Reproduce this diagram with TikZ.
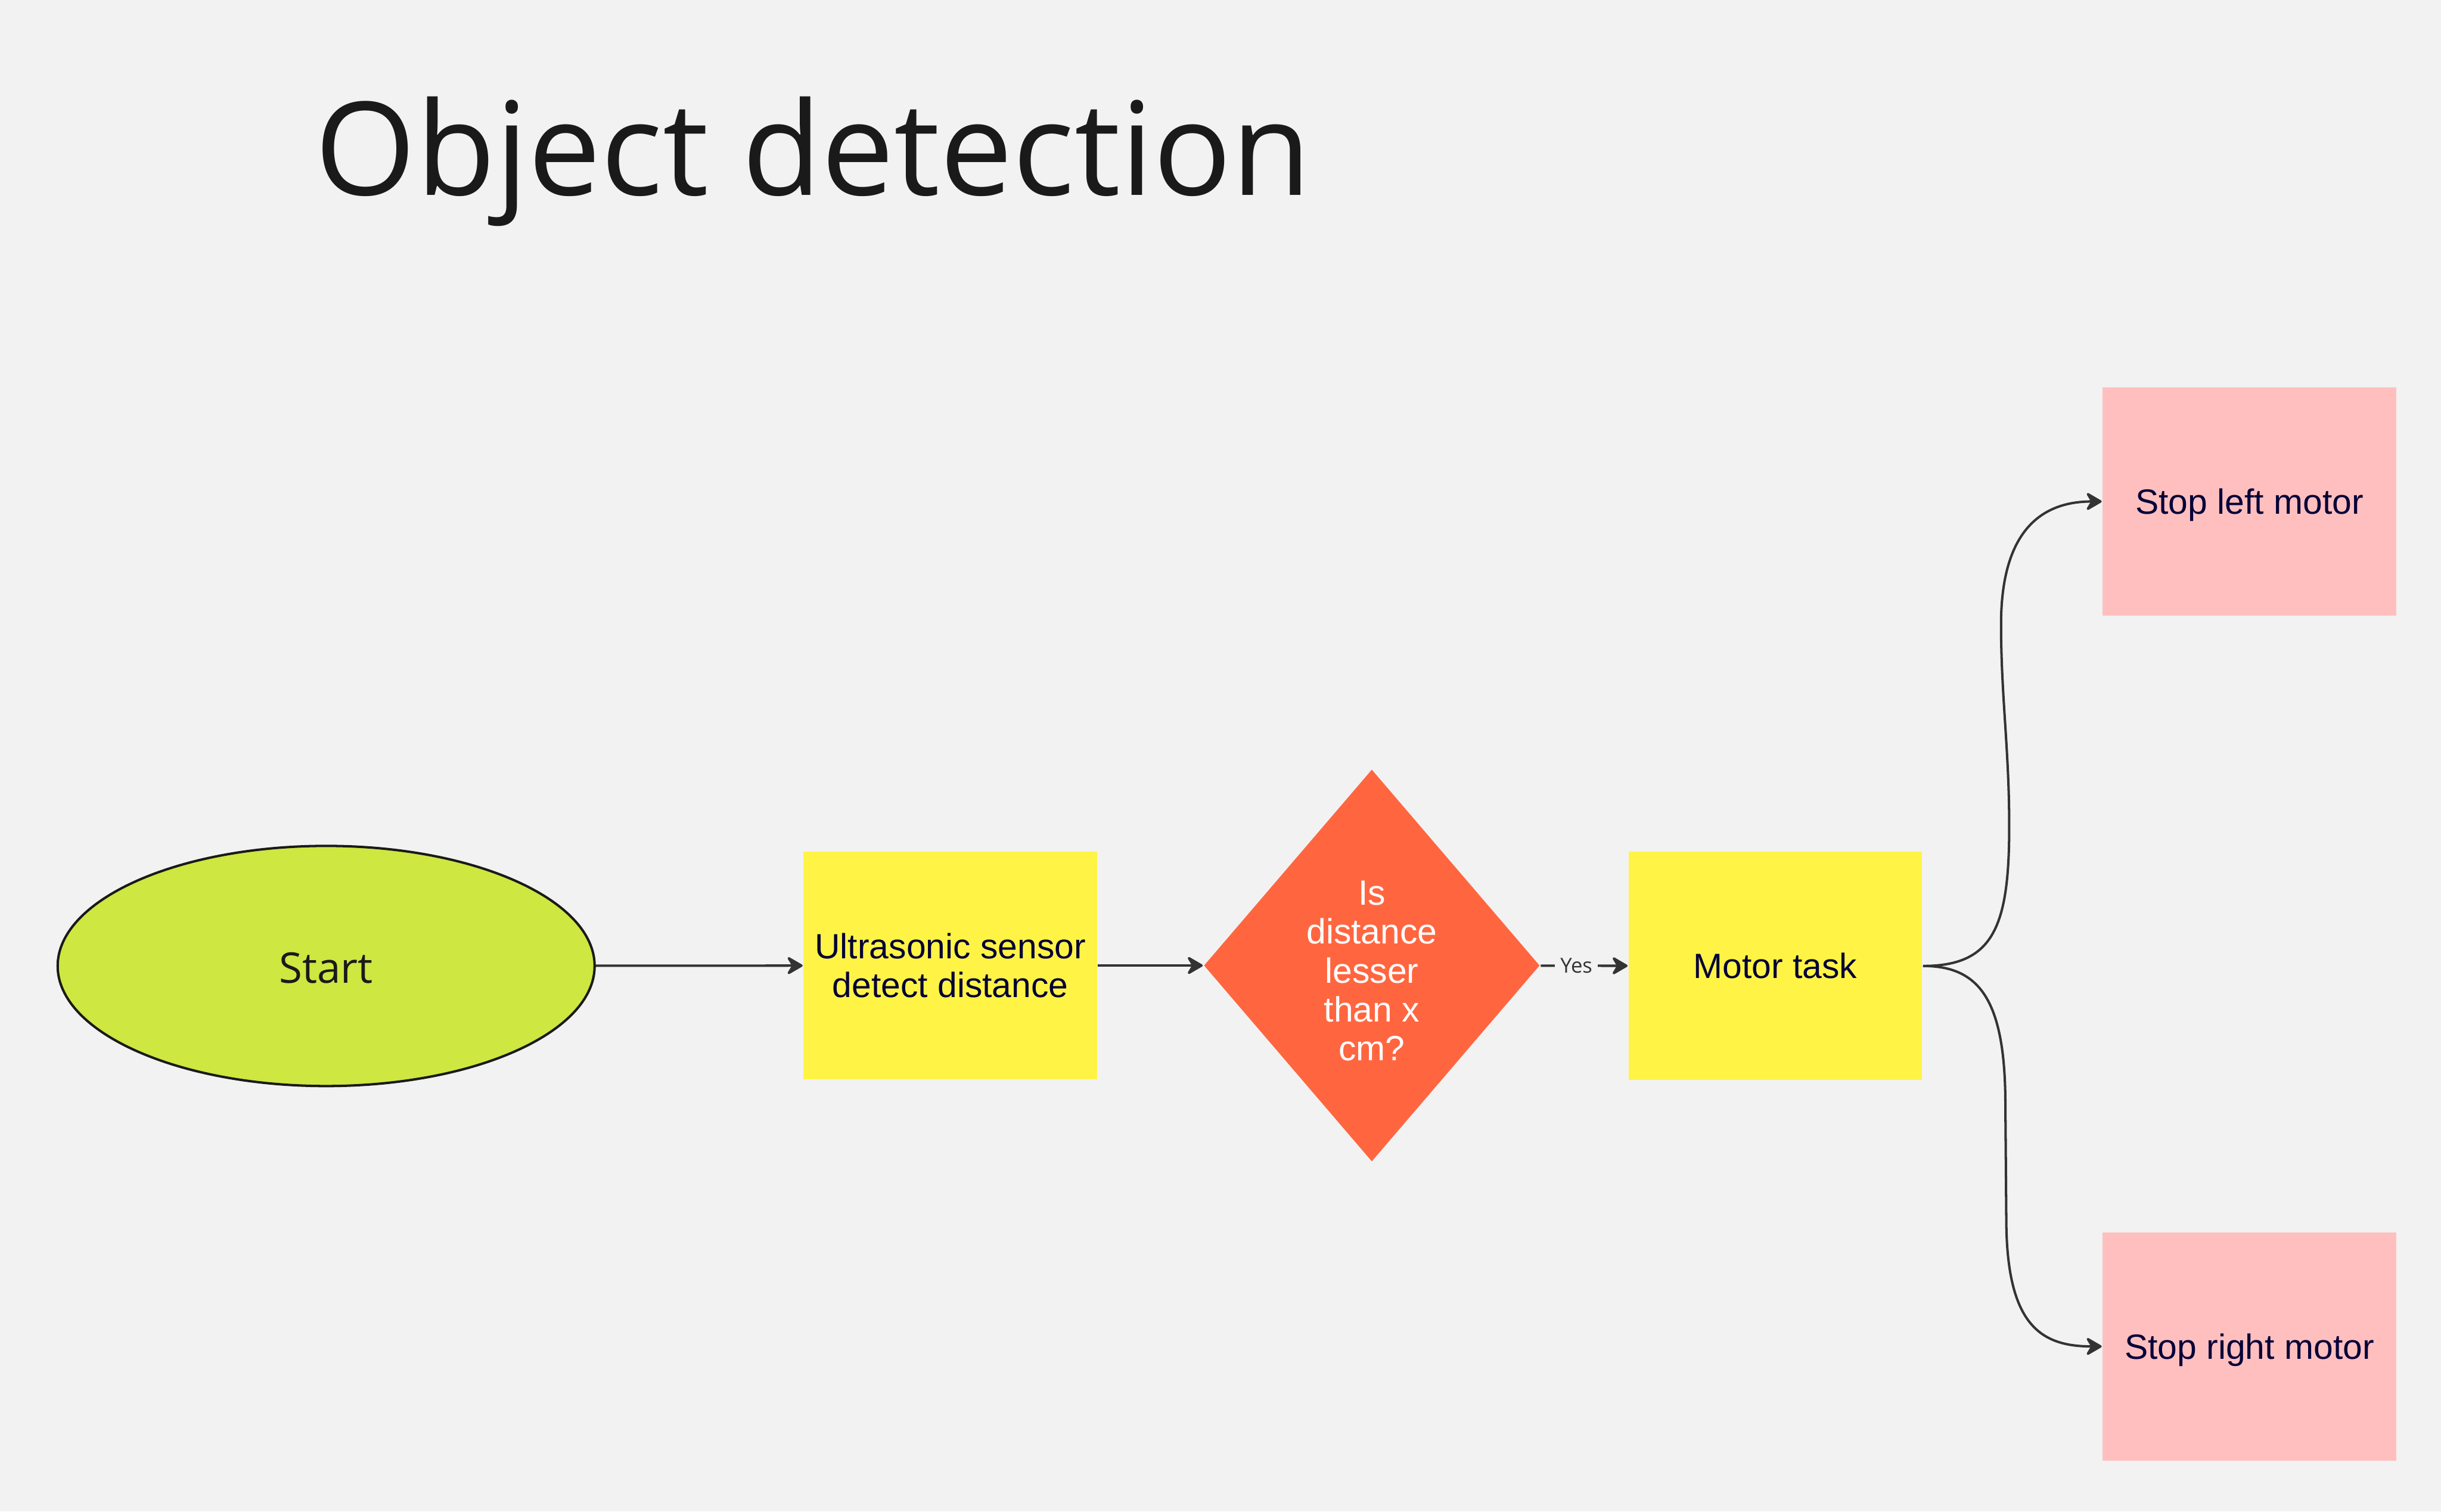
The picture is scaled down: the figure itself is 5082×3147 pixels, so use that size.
\documentclass[tikz,border=0pt]{standalone}
\usepackage{fontspec}
\setmainfont{Liberation Sans}
\newfontfamily\opensans{Open Sans}
\usetikzlibrary{shapes.geometric,arrows.meta}
\definecolor{bg}{HTML}{F2F2F2}
\definecolor{lime}{HTML}{CEE741}
\definecolor{sticky}{HTML}{FFF445}
\definecolor{dorange}{HTML}{FF6640}
\definecolor{pinkbox}{HTML}{FFBFBF}
\definecolor{navy}{HTML}{050038}
\definecolor{conn}{HTML}{333333}
\definecolor{ink}{HTML}{1A1A1A}
\begin{document}
\begin{tikzpicture}[x=0.1pt,y=-0.1pt,
  card/.style={rectangle, inner sep=0pt, minimum width=61.1pt, minimum height=47.5pt, align=center, text=navy, font=\fontsize{7.3}{8}\selectfont, text height=5.23pt, text depth=0pt},
  card2/.style={card, text height=13.23pt},
  flow/.style={draw=conn, line width=0.5pt, -{Stealth[length=3.8pt,width=4.4pt,inset=1.3pt,round]}},
]
\fill[bg] (0,0) rectangle (5082,3147);
\useasboundingbox (0,0) rectangle (5082,3147);
\node[anchor=base west, inner sep=0pt, text=ink, font=\opensans\fontsize{27}{33}\selectfont] (title) at (654,406) {Object detection};
\node[ellipse, draw=ink, line width=0.5pt, fill=lime, minimum width=111.8pt, minimum height=50pt, inner sep=0pt, text=ink, font=\opensans\fontsize{8.8}{11}\selectfont, text height=7.1pt, text depth=0pt] (start) at (679,2011) {Start};
\node[card2, fill=sticky] (ultra) at (1978.5,2010) {Ultrasonic sensor\\detect distance};
\node[diamond, fill=dorange, minimum width=70pt, minimum height=81.7pt, inner sep=0pt, align=center, text=white, font=\fontsize{7.3}{8.1}\selectfont, text height=39.6pt, text depth=0pt] (dec) at (2856,2010) {Is\\distance\\lesser\\than x\\cm?};
\node[card, fill=sticky] (motor) at (3696,2011) {Motor task};
\node[card, fill=pinkbox] (stopl) at (4683,1044) {Stop left motor};
\node[card, fill=pinkbox] (stopr) at (4683,2803) {Stop right motor};
\draw[flow] (start) -- (ultra);
\draw[flow] (ultra) -- (dec);
\draw[flow] (dec) -- node[pos=0.41, fill=bg, inner xsep=1.1pt, inner ysep=0.5pt, text=conn, font=\opensans\fontsize{4.3}{5}\selectfont] (yes) {Yes} (motor);
\draw[flow] (motor.east) .. controls (4150,2011) and (4183,1930) .. (4183,1720) .. controls (4183,1560) and (4166,1450) .. (4166,1300) .. controls (4166,1130) and (4230,1044) .. (stopl.west);
\draw[flow] (motor.east) .. controls (4120,2011) and (4175,2080) .. (4175,2300) -- (4177,2550) .. controls (4180,2760) and (4250,2803) .. (stopr.west);
\end{tikzpicture}
\end{document}
